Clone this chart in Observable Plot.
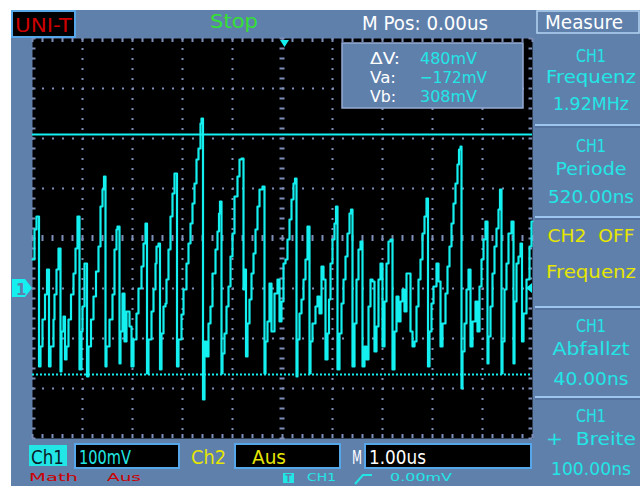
<!DOCTYPE html>
<html><head><meta charset="utf-8">
<script src="https://cdn.jsdelivr.net/npm/d3@7"></script>
<script src="https://cdn.jsdelivr.net/npm/@observablehq/plot@0.6"></script>
<style>
html,body{margin:0;padding:0;background:#fff;}
#wrap{position:relative;width:640px;height:486px;overflow:hidden;}
#bg{position:absolute;left:11px;top:10px;width:629px;height:476px;background:#6080ac;}
#wrap svg{position:absolute;left:0;top:0;}
</style></head><body>
<div id="wrap"><div id="bg"></div></div>
<script>
// CH1 trace, time in microseconds, voltage in mV
const traceTime = [-5.00,-4.96,-4.92,-4.87,-4.84,-4.80,-4.75,-4.71,-4.67,-4.64,-4.58,-4.56,-4.52,-4.48,-4.44,-4.42,-4.38,-4.35,-4.32,-4.28,-4.23,-4.18,-4.14,-4.10,-4.06,-4.02,-4.00,-3.96,-3.91,-3.88,-3.83,-3.78,-3.73,-3.68,-3.64,-3.60,-3.57,-3.54,-3.52,-3.46,-3.40,-3.36,-3.32,-3.30,-3.26,-3.24,-3.20,-3.16,-3.12,-3.06,-3.02,-2.98,-2.92,-2.88,-2.82,-2.78,-2.74,-2.71,-2.68,-2.62,-2.58,-2.54,-2.52,-2.48,-2.45,-2.42,-2.38,-2.34,-2.32,-2.28,-2.24,-2.20,-2.16,-2.11,-2.08,-2.02,-1.98,-1.92,-1.88,-1.84,-1.80,-1.76,-1.72,-1.68,-1.64,-1.62,-1.59,-1.56,-1.52,-1.48,-1.44,-1.40,-1.34,-1.30,-1.27,-1.25,-1.22,-1.20,-1.16,-1.12,-1.08,-1.04,-1.00,-0.96,-0.90,-0.86,-0.82,-0.78,-0.76,-0.73,-0.70,-0.66,-0.62,-0.58,-0.54,-0.50,-0.46,-0.40,-0.36,-0.34,-0.30,-0.26,-0.22,-0.16,-0.10,-0.06,-0.02,0.02,0.06,0.10,0.14,0.18,0.22,0.25,0.28,0.30,0.34,0.38,0.42,0.46,0.50,0.54,0.56,0.60,0.66,0.70,0.74,0.78,0.82,0.86,0.90,0.93,0.96,1.00,1.04,1.07,1.10,1.14,1.18,1.22,1.26,1.30,1.34,1.37,1.40,1.44,1.48,1.52,1.56,1.60,1.64,1.68,1.72,1.76,1.80,1.84,1.88,1.92,1.96,2.00,2.04,2.08,2.12,2.16,2.20,2.24,2.28,2.32,2.36,2.40,2.44,2.48,2.52,2.56,2.60,2.64,2.68,2.72,2.76,2.80,2.84,2.88,2.91,2.94,2.98,3.02,3.08,3.12,3.16,3.20,3.26,3.30,3.34,3.38,3.42,3.46,3.50,3.53,3.56,3.58,3.60,3.64,3.68,3.72,3.76,3.80,3.86,3.90,3.94,3.98,4.02,4.06,4.10,4.12,4.16,4.20,4.24,4.28,4.32,4.35,4.38,4.40,4.44,4.48,4.52,4.58,4.62,4.64,4.68,4.72,4.76,4.79,4.82,4.88,4.94,4.98,5.00];
const traceMv = [58,118,144,-156,-116,-62,-12,38,-156,-116,-62,-12,38,80,-166,-86,-56,-142,-116,-62,-12,30,80,144,-162,-86,-36,50,-176,-116,-62,-16,34,84,164,198,224,-156,-116,-62,-12,78,118,124,-150,-86,-10,-106,-46,-76,-156,-102,-50,0,44,90,130,-170,-102,-46,-2,50,84,90,-162,-90,-36,-30,18,78,144,190,230,-156,-102,-52,-2,50,90,130,170,210,258,280,330,340,-222,-106,-136,-70,-36,30,78,114,150,174,-170,-130,-90,-36,4,64,110,184,224,258,260,-2,38,-136,-70,-22,30,70,118,164,198,204,-170,-106,-66,10,-86,-10,18,-66,-26,50,58,98,138,178,210,220,-176,-102,-50,-22,18,58,124,-170,-106,-70,-36,-16,-50,44,18,-142,-90,-22,50,98,130,164,-162,-90,-30,18,64,110,150,158,-156,-70,18,78,94,-156,-116,-142,-36,18,14,-126,-76,18,50,-116,-26,50,94,98,-162,-86,-16,-66,-26,-2,-46,30,30,-86,-116,-106,-36,18,58,110,144,180,-156,-86,-30,4,50,14,-116,-70,-10,44,84,130,170,210,248,278,284,-200,-126,-70,-2,38,-116,-66,-26,-86,4,58,98,134,-150,-96,-36,30,84,120,158,198,-170,-106,-2,50,110,134,-150,-26,50,64,90,-106,-50,18,84,134,134];

// cursors
const cursorLevelsMv = [-172, 308];            // Va, Vb
const cursorNames = ["ΔV:", "Va:", "Vb:"];
const cursorReadings = ["480mV", "−172mV", "308mV"];

// measurement menu
const measureSources = ["CH1", "CH1", "CH2  OFF", "CH1", "CH1"];
const measureNames = ["Frequenz", "Periode", "Frequenz", "Abfallzt", "+  Breite"];
const measureValues = ["1.92MHz", "520.00ns", "", "40.00ns", "100.00ns"];

// status labels
const statusTop = ["UNI-T", "Stop", "M Pos: 0.00us", "Measure"];
const statusBottom = ["Ch1", "100mV", "Ch2", "Aus", "M", "1.00us"];
const statusFoot = ["Math", "Aus", "CH1", "0.00mV"];

const trace = traceTime.slice(0, Math.min(traceTime.length, traceMv.length)).map((t, i) => ({t, v: traceMv[i]}));

const cyan = "#14f0f0";
const textCyan = "#22e6e6";
const gridCol = "#7c8eb8";
const blue = "#6080ac";
const yellow = "#e6e600";
const red = "#cc0000";

const divT = [-4, -3, -2, -1, 1, 2, 3, 4];
const divV = [-200, -100, 0, 200, 300, 400];
const minorT = d3.range(-5, 5.001, 0.2);
const minorV = d3.range(-300, 500.1, 20);

const plot = Plot.plot({
  width: 640, height: 486,
  marginLeft: 32, marginRight: 108, marginTop: 38, marginBottom: 48,
  x: {domain: [-5, 5], axis: null},
  y: {domain: [-300, 500], axis: null},
  style: {background: "transparent", overflow: "hidden"},
  marks: [
    Plot.frame({fill: "black", stroke: null}),
    Plot.ruleX(divT, {stroke: gridCol, strokeWidth: 2, strokeDasharray: "2,8"}),
    Plot.ruleY(divV, {stroke: gridCol, strokeWidth: 2, strokeDasharray: "2,8"}),
    Plot.ruleY(minorV, {x1: -0.05, x2: 0.05, stroke: gridCol, strokeWidth: 2}),
    Plot.ruleX(minorT, {y1: 94, y2: 106, stroke: gridCol, strokeWidth: 2}),
    Plot.ruleY(minorV, {x1: -5, x2: -4.93, stroke: gridCol, strokeWidth: 2}),
    Plot.ruleY(minorV, {x1: 4.93, x2: 5, stroke: gridCol, strokeWidth: 2}),
    Plot.ruleX(minorT, {y1: 492, y2: 500, stroke: gridCol, strokeWidth: 2}),
    Plot.ruleX(minorT, {y1: -300, y2: -292, stroke: gridCol, strokeWidth: 2}),
    Plot.ruleY([cursorLevelsMv[1]], {stroke: cyan, strokeWidth: 2}),
    Plot.ruleY([cursorLevelsMv[0]], {stroke: cyan, strokeWidth: 2, strokeDasharray: "2,2"}),
    Plot.line(trace, {x: "t", y: "v", curve: "step-after", stroke: cyan, strokeWidth: 2.2})
  ]
});
document.getElementById("wrap").appendChild(plot);

const svg = d3.select(plot);
const font = "'DejaVu Sans', sans-serif";
function txt(x, y, s, fill, w, anchor = "start", size = 19) {
  const t = svg.append("text").attr("x", x).attr("y", y).attr("fill", fill)
    .attr("font-size", size).attr("font-family", font).attr("text-anchor", anchor)
    .style("white-space", "pre").text(s);
  if (w) t.attr("textLength", w).attr("lengthAdjust", "spacingAndGlyphs");
  return t;
}
function box(x, y, w, h, fill, stroke, sw = 2) {
  svg.append("rect").attr("x", x).attr("y", y).attr("width", w).attr("height", h)
    .attr("fill", fill).attr("stroke", stroke || "none").attr("stroke-width", sw);
}

// top bar
box(12, 11, 63, 26, "black", "#56a6ea");
txt(15, 32, statusTop[0], red, 57);
txt(210, 28, statusTop[1], "#33e033", 48);
txt(362, 30, statusTop[2], "white", 126);
box(537, 11, 102, 22, blue, "#b4d4f4", 1.5);
txt(545, 29, statusTop[3], "white", 78);

// markers
svg.append("polygon").attr("points", "280,40 289,40 284.5,47").attr("fill", cyan);
svg.append("polygon").attr("points", "12,279 25,279 32,288 25,297 12,297").attr("fill", cyan);
txt(16, 295, "1", blue, null, "start", 15).attr("font-weight", "bold");
svg.append("polygon").attr("points", "532,283 526,288 532,293").attr("fill", cyan);

// cursor readout
box(342, 43, 181, 65, blue, "#94acd4", 1.5);
const rowsY = [64, 83, 102];
const labW = [30, 26, 26];
const valW = [57, 67, 57];
cursorNames.forEach((n, i) => {
  txt(370, rowsY[i], n, "white", labW[i], "start", 16.5);
  txt(420, rowsY[i], cursorReadings[i], textCyan, valW[i], "start", 16.5);
});

// right measure panel
[125, 217, 307, 397].forEach(y => {
  svg.append("line").attr("x1", 535).attr("x2", 640).attr("y1", y).attr("y2", y).attr("stroke", "#9cc6f0").attr("stroke-width", 2);
  svg.append("line").attr("x1", 535).attr("x2", 640).attr("y1", y + 2).attr("y2", y + 2).attr("stroke", "#48648e").attr("stroke-width", 1);
});
const secSrcY = [62, 152, 242, 332, 422];
const secNameY = [83, 175, 278, 355, 445];
const secValY = [110, 203, null, 385, 475];
const srcW = [30, 30, 87, 30, 30];
const nameW = [90, 71, 90, 77, 90];
const valWm = [76, 86, 0, 75, 80];
measureSources.forEach((s, i) => {
  const col = s.startsWith("CH2") ? yellow : textCyan;
  txt(591, secSrcY[i], s, col, srcW[i], "middle", 18);
  txt(591, secNameY[i], measureNames[i], col, nameW[i], "middle", 18);
  if (measureValues[i]) txt(591, secValY[i], measureValues[i], col, valWm[i], "middle", 18);
});

// bottom status bar
box(29, 445, 38, 21, textCyan, null);
txt(31, 464, statusBottom[0], "#0a1a2a", 33);
box(75, 444, 104, 24, "black", "#56a6ea");
txt(79, 464, statusBottom[1], textCyan, 52);
txt(191, 464, statusBottom[2], yellow, 35);
box(235, 444, 105, 24, "black", "#56a6ea");
txt(252, 464, statusBottom[3], yellow, 34);
txt(352, 464, statusBottom[4], "white", 10);
box(365, 444, 166, 24, "black", "#56a6ea");
txt(369, 464, statusBottom[5], "white", 57);

// foot row (at the lower screen edge)
txt(29, 481, statusFoot[0], red, 49, "start", 11);
txt(107, 481, statusFoot[1], red, 34, "start", 11);
box(283, 473, 11, 10, textCyan, null);
txt(285.5, 482, "T", blue, 6, "start", 10).attr("font-weight", "bold");
txt(307, 481, statusFoot[2], textCyan, 29, "start", 11);
svg.append("path").attr("d", "M355,484 L363,475 L372,475").attr("fill", "none").attr("stroke", textCyan).attr("stroke-width", 2);
txt(390, 481, statusFoot[3], textCyan, 62, "start", 11);
</script>
</body></html>
